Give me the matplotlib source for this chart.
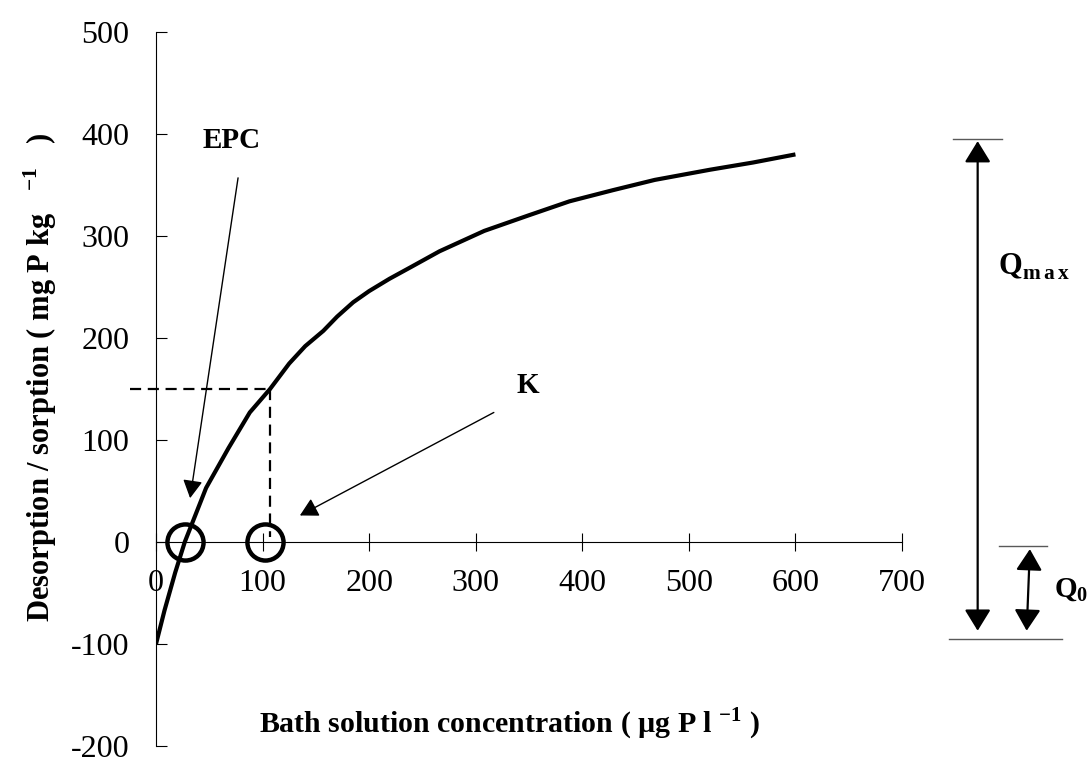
import matplotlib
matplotlib.use('Agg')
import matplotlib.pyplot as plt

plt.rcParams['font.family'] = ['Liberation Serif', 'DejaVu Serif']
plt.rcParams['mathtext.fontset'] = 'custom'
plt.rcParams['mathtext.rm'] = 'Liberation Serif'
plt.rcParams['mathtext.bf'] = 'Liberation Serif:bold'
plt.rcParams['axes.unicode_minus'] = False

# sorption isotherm
conc = [0, 8, 18, 27, 47, 68, 88, 107, 125, 140, 157, 170, 185, 200, 219,
        240, 266, 308, 349, 388, 429, 468, 520, 560, 600]
sorp = [-100, -67, -30, 0, 53, 92, 127, 150, 175, 192, 207, 221, 235, 246, 258,
        270, 285, 305, 320, 334, 345, 355, 365, 372, 380]

x_ticks = [0, 100, 200, 300, 400, 500, 600, 700]
y_ticks = [-200, -100, 0, 100, 200, 300, 400, 500]

epc_x = 27
k_x = 102
k_y = 150
q_max_level = 395
q0_level = -4
base_level = -95

fig = plt.figure(figsize=(10.92, 7.67), dpi=100)
ax = fig.add_axes([156 / 1092, 21 / 767, 746 / 1092, 714 / 767])
ax.set_xlim(0, 700)
ax.set_ylim(-200, 500)

for side in ['top', 'right']:
    ax.spines[side].set_visible(False)
ax.spines['bottom'].set_position(('data', 0))
ax.spines['left'].set_linewidth(0.8)
ax.spines['bottom'].set_linewidth(0.8)

ax.set_xticks(x_ticks)
ax.set_yticks(y_ticks)
ax.tick_params(axis='x', direction='inout', length=13, width=0.8, pad=13, labelsize=23)
ax.tick_params(axis='y', direction='in', length=8, width=0.8, pad=19, labelsize=23)

ax.plot(conc, sorp, color='black', lw=3, solid_capstyle='butt')

# K construction
ax.plot([-24, k_x + 5], [k_y, k_y], color='black', lw=1.6, ls=(0, (5, 3)), clip_on=False)
ax.plot([k_x + 5, k_x + 5], [k_y, 5], color='black', lw=1.6, ls=(0, (5, 3)))

# circles on the x axis
ax.plot([epc_x, k_x], [0, 0], 'o', ms=26, mfc='none', mec='black', mew=3.2, clip_on=False)

arrow_thin = dict(arrowstyle='-|>,head_length=11,head_width=6', color='black', lw=1,
                  shrinkA=0, shrinkB=0, mutation_scale=1)
ax.annotate('', xy=(32, 43), xytext=(77, 357), arrowprops=arrow_thin)
ax.annotate('', xy=(135, 26), xytext=(317, 127), arrowprops=arrow_thin)

ax.text(71, 394, 'EPC', fontsize=21, fontweight='bold', ha='center', va='center')
ax.text(349, 153, 'K', fontsize=21, fontweight='bold', ha='center', va='center')

# Qmax and Q0 markers right of the plot
ax.plot([748, 794], [q_max_level, q_max_level], color='0.35', lw=1, clip_on=False)
ax.plot([791, 836], [q0_level, q0_level], color='0.35', lw=1, clip_on=False)
ax.plot([744, 850], [base_level, base_level], color='0.35', lw=1, clip_on=False)

arrow_both = dict(arrowstyle='<|-|>,head_length=13,head_width=8', color='black', lw=1.6,
                  shrinkA=0, shrinkB=0, mutation_scale=1)
ax.annotate('', xy=(771, q_max_level - 2), xytext=(771, base_level + 8),
            arrowprops=arrow_both, annotation_clip=False)
ax.annotate('', xy=(820, q0_level - 3), xytext=(817, base_level + 8),
            arrowprops=arrow_both, annotation_clip=False)

ax.text(790, 270, r'Q$_{\mathbf{m\,a\,x}}$', fontsize=22, fontweight='bold',
        ha='left', va='center', clip_on=False)
ax.text(843, -47, r'Q$_{\mathbf{0}}$', fontsize=21, fontweight='bold',
        ha='left', va='center', clip_on=False)

ax.text(332, -178, r'Bath solution concentration ( µg P l $^{\mathbf{-1}}$ )',
        fontsize=21.5, fontweight='bold', ha='center', va='center')
fig.text(40 / 1092, 1 - 378 / 767, r'Desorption / sorption ( mg P kg   $^{\mathbf{-1}}$   )',
         fontsize=22, fontweight='bold', rotation=90, ha='center', va='center')

fig.savefig('out.png', dpi=100)
